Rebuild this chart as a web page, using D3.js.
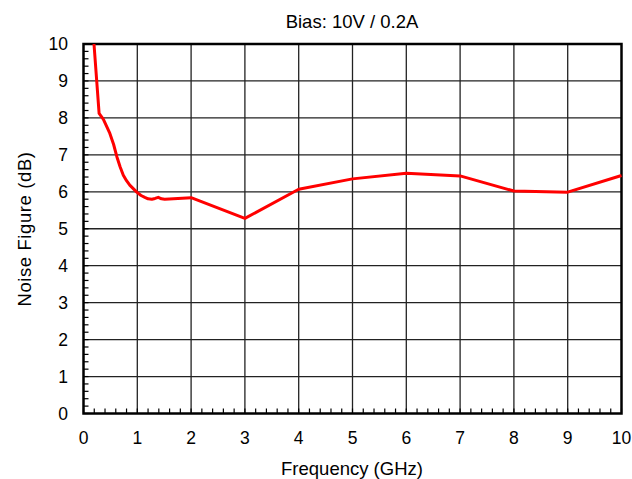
<!DOCTYPE html>
<html><head><meta charset="utf-8">
<script src="https://cdn.jsdelivr.net/npm/d3@7"></script>
<style>body{margin:0;background:#fff}svg{display:block}text{font-family:"Liberation Sans",Arial,sans-serif;fill:#000}</style>
</head><body>
<script>
const freq = [0.195,0.29,0.37,0.49,0.56,0.62,0.68,0.74,0.80,0.86,0.99,1.07,1.14,1.20,1.27,1.33,1.39,1.45,1.51,2,3,4,5,6,7,8,9,10];
const nf   = [10,8.12,7.96,7.58,7.28,6.95,6.68,6.45,6.3,6.18,5.99,5.9,5.85,5.81,5.8,5.82,5.85,5.81,5.8,5.84,5.28,6.07,6.35,6.5,6.43,6.02,5.99,6.44];
const xTicks = [0,1,2,3,4,5,6,7,8,9,10];
const yTicks = [0,1,2,3,4,5,6,7,8,9,10];

const W=632,H=479, L=83.5,R=621.5,T=44,B=413.5;
const svg=d3.select("body").append("svg").attr("width",W).attr("height",H);
const x=d3.scaleLinear().domain([0,10]).range([L,R]);
const y=d3.scaleLinear().domain([0,10]).range([B,T]);

// grid
svg.append("g").selectAll("line").data(xTicks.slice(1,-1)).join("line")
  .attr("x1",d=>x(d)).attr("x2",d=>x(d)).attr("y1",T).attr("y2",B)
  .attr("stroke","#222").attr("stroke-width",1.3);
svg.append("g").selectAll("line").data(yTicks.slice(1,-1)).join("line")
  .attr("y1",d=>y(d)).attr("y2",d=>y(d)).attr("x1",L).attr("x2",R)
  .attr("stroke","#222").attr("stroke-width",1.3);

// minor ticks
const xm=d3.range(0,10.001,0.2), ym=d3.range(0,10.001,0.2);
svg.append("g").selectAll("line").data(xm).join("line")
  .attr("x1",d=>x(d)).attr("x2",d=>x(d)).attr("y1",B).attr("y2",B-5)
  .attr("stroke","#000").attr("stroke-width",1.2);
svg.append("g").selectAll("line").data(ym).join("line")
  .attr("y1",d=>y(d)).attr("y2",d=>y(d)).attr("x1",L).attr("x2",L+5)
  .attr("stroke","#000").attr("stroke-width",1.2);

// frame
svg.append("rect").attr("x",L).attr("y",T).attr("width",R-L).attr("height",B-T)
  .attr("fill","none").attr("stroke","#000").attr("stroke-width",2.5);

// curve
svg.append("path").datum(freq.map((f,i)=>[f,nf[i]]))
  .attr("d",d3.line().x(d=>x(d[0])).y(d=>y(d[1])))
  .attr("fill","none").attr("stroke","#ff0000").attr("stroke-width",3).attr("stroke-linejoin","round");

// tick labels
svg.append("g").selectAll("text").data(xTicks).join("text")
  .attr("x",d=>x(d)).attr("y",444).attr("text-anchor","middle").attr("font-size",17.5).text(d=>d);
svg.append("g").selectAll("text").data(yTicks).join("text")
  .attr("x",68).attr("y",d=>y(d)+6.2).attr("text-anchor","end").attr("font-size",17.5).text(d=>d);

svg.append("text").attr("x",352).attr("y",28).attr("text-anchor","middle").attr("font-size",18.5).text("Bias: 10V / 0.2A");
svg.append("text").attr("x",352).attr("y",475).attr("text-anchor","middle").attr("font-size",18.5).text("Frequency (GHz)");
svg.append("text").attr("transform",`translate(30.5,229) rotate(-90)`).attr("text-anchor","middle").attr("font-size",18.5).attr("letter-spacing",0.6).text("Noise Figure (dB)");
</script>
</body></html>
